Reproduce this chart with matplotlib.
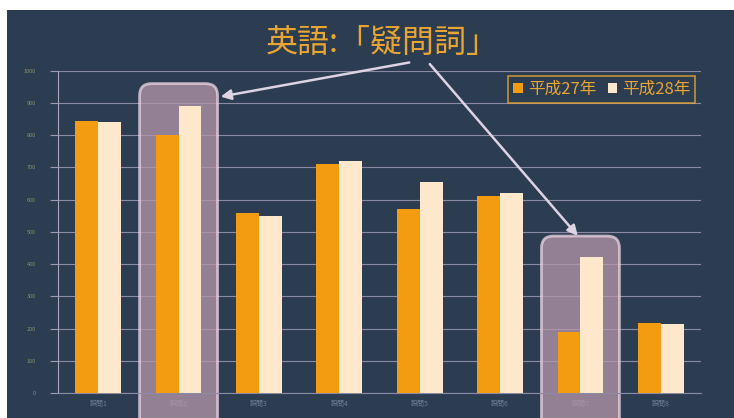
import matplotlib
matplotlib.use("Agg")
import matplotlib.pyplot as plt
import numpy as np
from matplotlib.patches import FancyBboxPatch, Rectangle
from matplotlib.transforms import IdentityTransform

plt.rcParams['font.family'] = ['Noto Sans CJK JP', 'DejaVu Sans']

categories = ["設問1", "設問2", "設問3", "設問4", "設問5", "設問6", "設問7", "設問8"]
h27 = [845, 799, 557, 712, 570, 610, 189, 217]
h28 = [842, 889, 548, 721, 656, 619, 421, 214]
series_names = ["平成27年", "平成28年"]
yticks = [0, 100, 200, 300, 400, 500, 600, 700, 800, 900, 1000]
highlight = [1, 6]
highlight_top = [960, 487]
title = "英語:「疑問詞」"

BG = "#2c3d52"
ORANGE = "#f39c12"
CREAM = "#fde8cc"
GOLD = "#e8a531"

fig = plt.figure(figsize=(7.34, 4.18), dpi=100, facecolor="white")
fig.patches.append(Rectangle((7/734, 0), 1, (418-10)/418, transform=fig.transFigure,
                             facecolor=BG, edgecolor="none", zorder=-10))
ax = fig.add_axes([58/734, 25/418, 643/734, (393-70.7)/418])
ax.set_facecolor("none")

x = np.arange(len(categories))
w = 0.285
ax.bar(x - w/2, h27, w, color=ORANGE, zorder=3, label=series_names[0])
ax.bar(x + w/2, h28, w, color=CREAM, zorder=3, label=series_names[1])

ax.set_xlim(-0.5, len(categories) - 0.5)
ax.set_ylim(0, 1000)
ax.set_yticks(yticks)
ax.set_yticklabels([str(v) for v in yticks], fontsize=4, color="#8a8f6a")
ax.set_xticks(x)
ax.set_xticklabels(categories, fontsize=5, color="#6f7e90")
ax.tick_params(axis="x", length=0, pad=5)
ax.tick_params(axis="y", length=6, width=0.8, color="#9a9ab0", pad=10)
ax.yaxis.grid(True, color="#8c8aa3", linewidth=0.8, zorder=0)
ax.set_axisbelow(True)
for s in ["top", "right"]:
    ax.spines[s].set_visible(False)
ax.spines["left"].set_color("#a8a8bc")
ax.spines["bottom"].set_color("#8c8aa3")
ax.spines["bottom"].set_linewidth(0.8)

leg = ax.legend(loc="upper right", bbox_to_anchor=(1.004, 1.01), ncol=2, frameon=True,
                fontsize=12, handlelength=0.55, handleheight=0.55, handletextpad=0.3,
                columnspacing=0.7, borderpad=0.3, fancybox=False)
leg.get_frame().set_facecolor(BG)
leg.get_frame().set_edgecolor(GOLD)
leg.get_frame().set_linewidth(1.2)
for t in leg.get_texts():
    t.set_color(GOLD)

# highlight boxes (under the bars)
for i, top in zip(highlight, highlight_top):
    x0, y0 = ax.transData.transform((i - 0.485, top))
    x1, _ = ax.transData.transform((i + 0.485, top))
    ybot = -20
    box = FancyBboxPatch((x0, ybot), x1 - x0, y0 - ybot,
                         boxstyle="round,pad=0,rounding_size=12",
                         transform=IdentityTransform(), facecolor="#b898ab", alpha=0.75,
                         edgecolor="#ecd6e4", linewidth=2, zorder=2, clip_on=False)
    ax.add_artist(box)

fig.text(382/734, 1 - 43/418, title, ha="center", va="center", fontsize=23, color=GOLD)

arrow_kw = dict(arrowstyle="-|>,head_length=0.6,head_width=0.3", color="#ddd3e3", lw=1.8)
ax.annotate("", xy=(1.49, 918), xycoords="data", xytext=(412, 418 - 62),
            textcoords="figure pixels", arrowprops=arrow_kw, annotation_clip=False)
ax.annotate("", xy=(5.99, 481), xycoords="data", xytext=(428, 418 - 62),
            textcoords="figure pixels", arrowprops=arrow_kw, annotation_clip=False)

fig.savefig("out.png", dpi=100, facecolor="white")
